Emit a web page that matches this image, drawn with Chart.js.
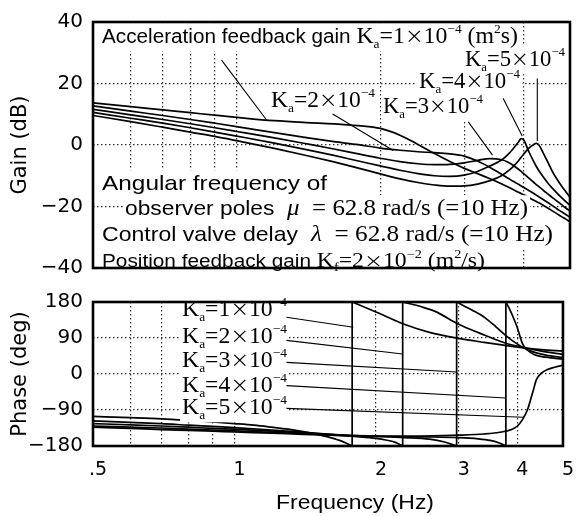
<!DOCTYPE html>
<html>
<head>
<meta charset="utf-8">
<script src="https://cdn.jsdelivr.net/npm/chart.js@4.4.0/dist/chart.umd.min.js"></script>
<style>
body { margin: 0; background: #fff; }
#wrap { position: relative; width: 582px; height: 516px; background: #fff; }
canvas { position: absolute; left: 0; }
</style>
</head>
<body>
<div id="wrap">
  <canvas id="gain_chart" width="582" height="290" style="top:0px"></canvas>
  <canvas id="phase_chart" width="582" height="236" style="top:280px"></canvas>
</div>
<script>
// x axis (Hz), shared by both panels
var gridFreqs = [0.5, 0.6, 0.7, 0.8, 0.9, 1, 2, 3, 4, 5];
var xTickValues = [0.5, 1, 2, 3, 4, 5];
var xTickText = ['.5', '1', '2', '3', '4', '5'];

var gainTicks = [-40, -20, 0, 20, 40];
var gainTickText = ['\u221240', '\u221220', '0', '20', '40'];
var phaseTicks = [-180, -90, 0, 90, 180];
var phaseTickText = ['\u2212180', '\u221290', '0', '90', '180'];

var kaValues = [1, 2, 3, 4, 5];

// gain (dB)
var freqGain = [0.5, 0.6, 0.7, 0.8, 0.9, 1.0, 1.2, 1.4, 1.6, 1.8, 2.0, 2.2, 2.4, 2.6, 2.8, 3.0, 3.2, 3.4, 3.6, 3.7, 3.8, 3.9, 3.95, 4.0, 4.1, 4.2, 4.25, 4.3, 4.4, 4.5, 4.6, 4.7, 4.8, 4.9, 5.0];
var gainKa1 = [13.7, 12.5, 11.4, 10.5, 9.7, 9.0, 7.9, 7.3, 6.9, 6.3, 5.4, 3.2, 0.2, -2.8, -5.4, -7.6, -9.3, -11.0, -12.7, -13.6, -14.5, -15.4, -15.8, -16.2, -17.1, -18.0, -18.4, -18.8, -19.7, -20.6, -21.5, -22.4, -23.3, -24.1, -25.0];
var gainKa2 = [12.7, 11.0, 9.6, 8.3, 7.1, 6.0, 4.0, 2.4, 1.1, 0.1, -1.0, -1.7, -2.2, -2.5, -2.9, -3.6, -5.2, -7.3, -9.6, -10.7, -11.8, -12.8, -13.3, -13.8, -14.8, -15.8, -16.3, -16.8, -17.8, -18.8, -19.8, -20.8, -21.7, -22.6, -23.5];
var gainKa3 = [11.6, 9.8, 8.3, 6.9, 5.6, 4.4, 2.3, 0.4, -1.3, -2.9, -4.3, -5.4, -6.1, -6.4, -6.3, -5.8, -5.0, -4.4, -4.8, -5.5, -6.6, -7.9, -8.6, -9.3, -10.8, -12.2, -12.9, -13.5, -14.8, -16.0, -17.2, -18.3, -19.4, -20.5, -21.5];
var gainKa4 = [10.6, 8.7, 7.1, 5.6, 4.2, 2.9, 0.6, -1.5, -3.4, -5.2, -6.8, -8.2, -9.3, -10.0, -10.2, -9.8, -8.6, -6.8, -4.8, -3.2, -1.2, 1.0, 2.1, 1.6, -2.2, -5.5, -7.0, -8.3, -10.5, -12.5, -14.2, -15.7, -17.1, -18.4, -19.6];
var gainKa5 = [9.6, 7.6, 5.8, 4.2, 2.8, 1.4, -1.1, -3.4, -5.5, -7.5, -9.4, -11.0, -12.2, -13.0, -13.4, -13.3, -12.7, -11.6, -9.9, -8.6, -7.0, -5.1, -4.0, -2.9, -1.0, 0.2, 0.5, 0.1, -2.8, -5.8, -8.8, -11.2, -13.3, -15.2, -17.0];

// phase (deg); a repeated frequency is the jump from -180 to +180
var phaseFreqKa1 = [0.5, 0.6, 0.7, 0.8, 0.9, 1.0, 1.1, 1.2, 1.3, 1.4, 1.5, 1.6, 1.7, 1.78, 1.78, 2.0, 2.29, 2.6, 3.0, 3.4, 3.8, 4.1, 4.5, 5.0];
var phaseKa1 = [-106, -109, -112, -116, -120, -124, -128, -133, -138, -144, -151, -159, -169, -180, 180, 155, 125, 104, 89, 79, 71, 66, 61, 57];
var phaseFreqKa2 = [0.5, 0.6, 0.7, 0.8, 0.9, 1.0, 1.2, 1.4, 1.6, 1.8, 2.0, 2.1, 2.2, 2.28, 2.28, 2.5, 2.68, 2.97, 3.2, 3.41, 3.78, 4.1, 4.5, 5.0];
var phaseKa2 = [-117, -121, -124, -128, -131, -134, -140, -146, -151, -156, -161, -165, -171, -180, 180, 168, 156, 127, 110, 97, 77, 67, 57, 49];
var phaseFreqKa3 = [0.5, 0.6, 0.7, 0.8, 0.9, 1.0, 1.2, 1.4, 1.6, 1.8, 2.0, 2.3, 2.6, 2.8, 2.97, 2.97, 3.2, 3.41, 3.6, 3.78, 3.95, 4.1, 4.3, 4.6, 5.0];
var phaseKa3 = [-124, -127, -130, -133, -136, -138, -143, -147, -151, -154, -156, -159, -163, -170, -180, 180, 160, 141, 118, 96, 79, 67, 56, 47, 41];
var phaseFreqKa4 = [0.5, 0.6, 0.7, 0.8, 0.9, 1.0, 1.2, 1.4, 1.6, 1.8, 2.0, 2.5, 3.0, 3.3, 3.5, 3.65, 3.78, 3.78, 3.85, 3.95, 4.0, 4.1, 4.2, 4.35, 4.6, 5.0];
var phaseKa4 = [-130, -133, -135, -138, -140, -142, -146, -149, -152, -154, -155, -157, -159, -162, -166, -172, -180, 180, 162, 132, 115, 76, 60, 48, 42, 37];
var phaseFreqKa5 = [0.5, 0.6, 0.7, 0.8, 0.9, 1.0, 1.2, 1.4, 1.6, 1.8, 2.0, 2.5, 3.0, 3.4, 3.7, 3.9, 4.0, 4.1, 4.2, 4.26, 4.33, 4.39, 4.5, 4.61, 4.8, 5.0];
var phaseKa5 = [-133, -136, -139, -141, -143, -145, -148, -151, -153, -155, -156, -155, -153, -150, -145, -138, -130, -114, -90, -67, -38, -14, 2, 10, 17, 22];

// label leader lines, [freq, value] at both ends
var gainLeadFrom = [[0.93, 27.6], [1.59, 10.1], [3.06, 7.5], [3.62, 15.2], [4.27, 21.6]];
var gainLeadTo = [[1.16, 7.8], [2.13, -1.8], [3.44, -3.3], [3.97, 2.9], [4.27, 1.3]];
var phaseLeadFrom = [[1.29, 142], [1.29, 84], [1.29, 29], [1.29, -29], [1.29, -86]];
var phaseLeadTo = [[1.79, 117], [2.28, 50], [2.97, 5], [3.78, -60], [4.12, -108]];

var gainSeries = [gainKa1, gainKa2, gainKa3, gainKa4, gainKa5];
var phaseFreqs = [phaseFreqKa1, phaseFreqKa2, phaseFreqKa3, phaseFreqKa4, phaseFreqKa5];
var phaseSeries = [phaseKa1, phaseKa2, phaseKa3, phaseKa4, phaseKa5];

function kaLabel(n) {
    return [['K', 'r'], ['a', 'b'], ['=' + n, 'r'], ['\u00d7', 'x'], ['10', 'r'], ['\u22124', 'p']];
}

var gainNotes = [
    {x: 102, y: 43, w: 416, sans: 20, serif: 23, parts: [['Acceleration feedback gain ', 's'], ['K', 'r'], ['a', 'b'], ['=1', 'r'], ['\u00d7', 'x'], ['10', 'r'], ['\u22124', 'p'], [' (m', 'r'], ['2', 'p'], ['s)', 'r']]},
    {x: 465, y: 66, w: 100, serif: 23, parts: kaLabel(kaValues[4])},
    {x: 419, y: 88, w: 101, serif: 23, parts: kaLabel(kaValues[3])},
    {x: 271, y: 107, w: 104, serif: 23, parts: kaLabel(kaValues[1])},
    {x: 383, y: 113, w: 100, serif: 23, parts: kaLabel(kaValues[2])},
    {x: 102, y: 190, w: 225, sans: 21, serif: 23, parts: [['Angular frequency of', 's']]},
    {x: 125, y: 215, w: 403, sans: 21, serif: 23, parts: [['observer poles  ', 's'], ['\u03bc', 'i'], ['  = 62.8 rad/s (=10 Hz)', 'r']]},
    {x: 102, y: 241, w: 451, sans: 21, serif: 23, parts: [['Control valve delay  ', 's'], ['\u03bb', 'i'], ['  = 62.8 rad/s (=10 Hz)', 'r']]},
    {x: 102, y: 267, w: 383, sans: 17.5, serif: 20, parts: [['Position feedback gain ', 's'], ['K', 'r'], ['f', 'b'], ['=2', 'r'], ['\u00d7', 'x'], ['10', 'r'], ['\u22122', 'p'], [' (m', 'r'], ['2', 'p'], ['/s)', 'r']]}
];

var phaseNotes = [
    {x: 182, y: 36, w: 105, serif: 23, parts: kaLabel(kaValues[0])},
    {x: 182, y: 63, w: 105, serif: 23, parts: kaLabel(kaValues[1])},
    {x: 182, y: 87, w: 105, serif: 23, parts: kaLabel(kaValues[2])},
    {x: 182, y: 112, w: 105, serif: 23, parts: kaLabel(kaValues[3])},
    {x: 182, y: 134, w: 105, serif: 23, parts: kaLabel(kaValues[4])},
    {x: 276, y: 229, w: 158, sans: 21, serif: 21, plain: true, parts: [['Frequency (Hz)', 's']]}
];

function fontFor(kind, it) {
    var r = it.serif || 23, s = it.sans || 20;
    if (kind === 's') return [s + 'px "Liberation Sans", Arial, sans-serif', 0];
    if (kind === 'i') return ['italic ' + r + 'px "Liberation Serif", serif', 0];
    if (kind === 'x') return [Math.round(r * 0.8) + 'px "Noto Sans CJK JP", sans-serif', -r * 0.02];
    if (kind === 'b') return [Math.round(r * 0.58) + 'px "Liberation Serif", serif', r * 0.2];
    if (kind === 'p') return [Math.round(r * 0.58) + 'px "Liberation Serif", serif', -r * 0.45];
    return [r + 'px "Liberation Serif", serif', 0];
}

function richScale(ctx, it) {
    var nat = 0;
    it.parts.forEach(function (p) {
        ctx.font = fontFor(p[1], it)[0];
        nat += ctx.measureText(p[0]).width;
    });
    return it.w / nat;
}

function drawBack(ctx, it) {
    if (it.plain) return;
    var r = it.serif || 23;
    ctx.fillStyle = '#fff';
    ctx.fillRect(it.x - 2, it.y - r * 0.86, it.w + 4, r * 1.22);
}

function drawRich(ctx, it) {
    var sx = richScale(ctx, it);
    ctx.save();
    ctx.translate(it.x, it.y);
    ctx.scale(sx, 1);
    ctx.fillStyle = '#000';
    ctx.textAlign = 'left';
    ctx.textBaseline = 'alphabetic';
    var cx = 0;
    it.parts.forEach(function (p) {
        var f = fontFor(p[1], it);
        ctx.font = f[0];
        ctx.fillText(p[0], cx, f[1]);
        cx += ctx.measureText(p[0]).width;
    });
    ctx.restore();
}

function notesPlugin(notes, leadFrom, leadTo) {
    return {
        id: 'notes',
        afterDatasetsDraw: function (chart) {
            var ctx = chart.ctx, a = chart.chartArea;
            var xs = chart.scales.x, ys = chart.scales.y;
            ctx.save();
            notes.forEach(function (it) { drawBack(ctx, it); });
            notes.forEach(function (it) { drawRich(ctx, it); });
            ctx.strokeStyle = '#000';
            ctx.lineWidth = 1.1;
            leadFrom.forEach(function (p, i) {
                var q = leadTo[i];
                ctx.beginPath();
                ctx.moveTo(xs.getPixelForValue(p[0]), ys.getPixelForValue(p[1]));
                ctx.lineTo(xs.getPixelForValue(q[0]), ys.getPixelForValue(q[1]));
                ctx.stroke();
            });
            ctx.lineWidth = 2.6;
            ctx.strokeRect(a.left, a.top, a.right - a.left, a.bottom - a.top);
            ctx.restore();
        }
    };
}

function edgeless(ends) {
    return function (c) {
        if (c.tick && ends.indexOf(c.tick.value) >= 0) return 'rgba(0,0,0,0)';
        return '#333';
    };
}

function curve(points, smooth) {
    return {
        data: points,
        borderColor: '#000',
        borderWidth: 1.7,
        pointRadius: 0,
        fill: false,
        tension: smooth ? 0.4 : 0,
        cubicInterpolationMode: smooth ? 'monotone' : 'default'
    };
}

// split a phase curve where it wraps, so the jump is a straight vertical line
function phaseDatasets(fs, ps) {
    var out = [], cur = [];
    for (var i = 0; i < fs.length; i++) {
        if (i > 0 && fs[i] === fs[i - 1]) {
            out.push(curve(cur, true));
            out.push(curve([{x: fs[i - 1], y: ps[i - 1]}, {x: fs[i], y: ps[i]}], false));
            cur = [];
        }
        cur.push({x: fs[i], y: ps[i]});
    }
    out.push(curve(cur, true));
    return out;
}

var tickFont = {family: 'DejaVu Sans', size: 20};
var titleFont = {family: 'DejaVu Sans', size: 21};

function xScale(showLabels) {
    return {
        type: 'logarithmic',
        min: 0.5,
        max: 5,
        afterBuildTicks: function (s) { s.ticks = gridFreqs.map(function (v) { return {value: v}; }); },
        ticks: {
            display: showLabels,
            autoSkip: false,
            maxRotation: 0,
            color: '#000',
            font: {family: 'DejaVu Sans', size: 19},
            padding: 13,
            labelOffset: 5,
            callback: function (v) {
                var k = xTickValues.indexOf(v);
                return k >= 0 ? xTickText[k] : '';
            }
        },
        grid: {color: edgeless([0.5, 5]), lineWidth: 1.2, drawTicks: false},
        border: {display: false, dash: [1.5, 2.5]},
        afterFit: function (s) { s.height = showLabels ? 70 : 0; }
    };
}

function yScale(ticks, texts, title) {
    return {
        min: ticks[0],
        max: ticks[ticks.length - 1],
        afterBuildTicks: function (s) { s.ticks = ticks.map(function (v) { return {value: v}; }); },
        ticks: {
            color: '#000',
            font: tickFont,
            padding: 10,
            callback: function (v) { return texts[ticks.indexOf(v)]; }
        },
        grid: {color: edgeless([ticks[0], ticks[ticks.length - 1]]), lineWidth: 1.2, drawTicks: false},
        border: {display: false, dash: [1.5, 2.5]},
        title: {display: true, text: title, color: '#000', font: titleFont, padding: {top: 8, bottom: 0}},
        afterFit: function (s) { s.width = 93; }
    };
}

var gain_chart = new Chart(document.getElementById('gain_chart').getContext('2d'), {
    type: 'line',
    data: {
        datasets: gainSeries.map(function (g) {
            return curve(freqGain.map(function (f, i) { return {x: f, y: g[i]}; }), true);
        })
    },
    options: {
        responsive: false,
        animation: false,
        devicePixelRatio: 1,
        events: [],
        layout: {padding: {top: 15, right: 12, bottom: 14, left: 0}},
        plugins: {legend: {display: false}, tooltip: {enabled: false}},
        scales: {
            x: xScale(false),
            y: yScale(gainTicks, gainTickText, 'Gain (dB)')
        }
    },
    plugins: [notesPlugin(gainNotes, gainLeadFrom, gainLeadTo)]
});

var phaseSets = [];
phaseSeries.forEach(function (p, k) {
    phaseSets = phaseSets.concat(phaseDatasets(phaseFreqs[k], p));
});

var phase_chart = new Chart(document.getElementById('phase_chart').getContext('2d'), {
    type: 'line',
    data: {datasets: phaseSets},
    options: {
        responsive: false,
        animation: false,
        devicePixelRatio: 1,
        events: [],
        layout: {padding: {top: 16, right: 12, bottom: 0, left: 0}},
        plugins: {legend: {display: false}, tooltip: {enabled: false}},
        scales: {
            x: xScale(true),
            y: yScale(phaseTicks, phaseTickText, 'Phase (deg)')
        }
    },
    plugins: [notesPlugin(phaseNotes, phaseLeadFrom, phaseLeadTo)]
});
</script>
</body>
</html>
